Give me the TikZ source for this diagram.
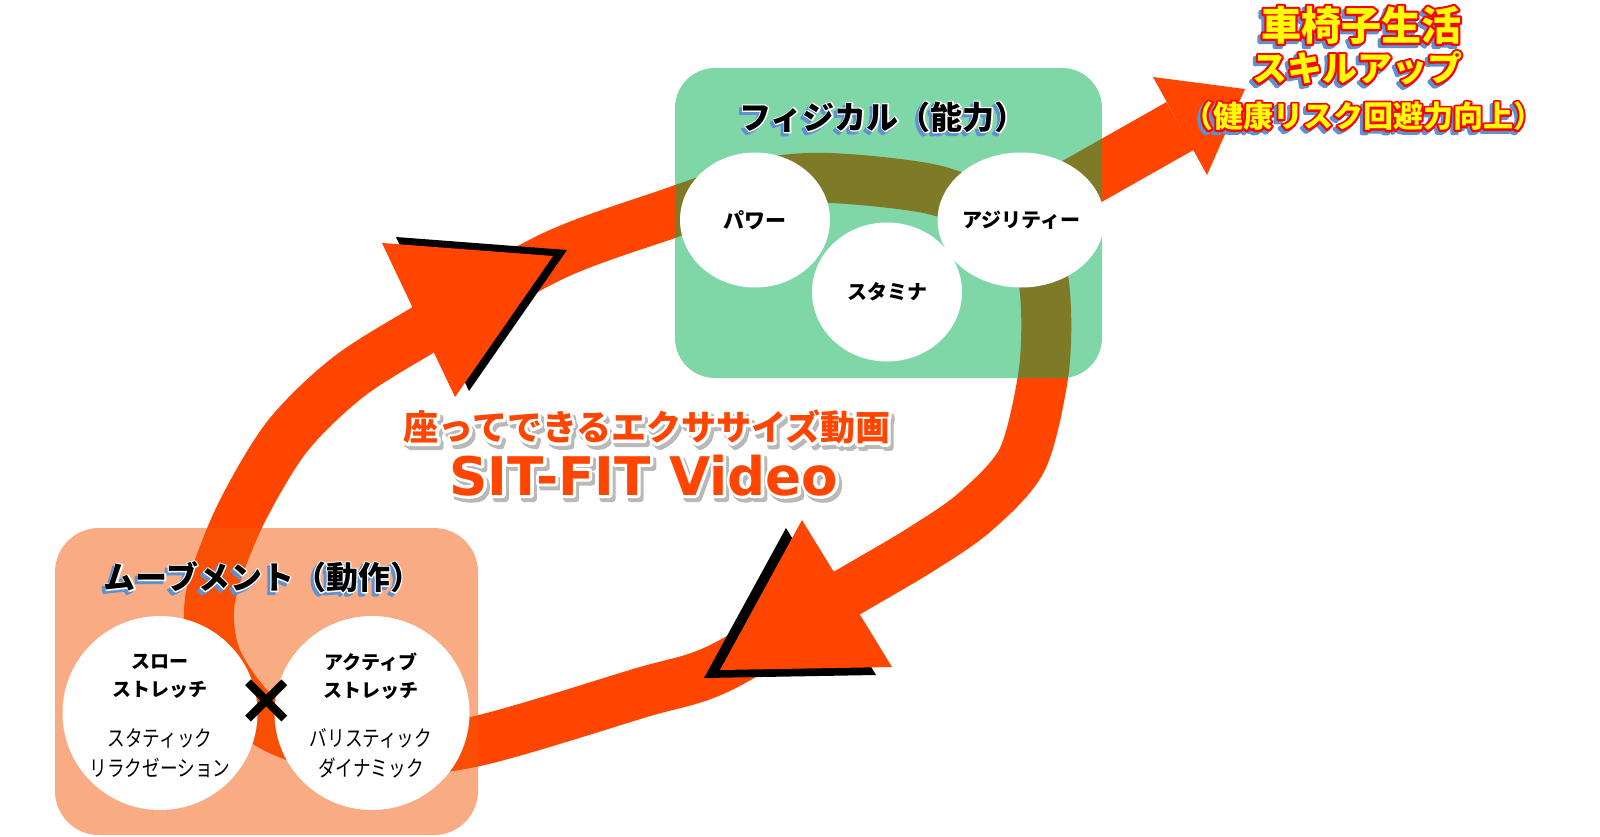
\documentclass[tikz,border=0pt]{standalone}
\usepackage{fontspec}
\usetikzlibrary{shapes.geometric}
\newfontfamily\jp{Noto Sans CJK JP}
\newfontfamily\jpn[FakeStretch=0.8]{Noto Sans CJK JP}
\newfontfamily\dv{DejaVu Sans}
\definecolor{orangered}{RGB}{255,69,0}
\definecolor{boxgreen}{RGB}{0,176,80}
\definecolor{boxsalmon}{RGB}{245,90,10}
\definecolor{shblue}{RGB}{95,145,210}
\definecolor{shgray}{RGB}{185,185,185}
\definecolor{txtyellow}{RGB}{255,255,0}
\definecolor{txtred}{RGB}{255,0,0}
% outlined (stroked) copy of a text: #1 colour, #2 stroke width in bp, #3 text
\newcommand\olcopy[3]{\textcolor{#1}{\special{pdf:literal direct 2 Tr #2 w 1 j 1 J}#3\special{pdf:literal direct 0 Tr}}}
% text with an outline behind it
\newcommand\oltext[3]{\rlap{\olcopy{#1}{#2}{#3}}#3}
\begin{document}
\begin{tikzpicture}[x=0.5pt,y=-0.5pt,
  band/.style={draw=orangered, line width=25pt},
  bubble/.style={ellipse, fill=white, inner sep=0pt, align=center},
  boxtitle/.style={font=\jp\bfseries\fontsize{16pt}{18pt}\selectfont, inner sep=0pt},
  bubblehead/.style={font=\jp\bfseries\fontsize{10pt}{12pt}\selectfont},
  movehead/.style={font=\jp\bfseries\fontsize{9.5pt}{14pt}\selectfont, align=center, inner sep=0pt},
  movesub/.style={font=\jpn\fontsize{11pt}{15pt}\selectfont, align=center, inner sep=0pt},
  maintitle/.style={font=\jp\bfseries\fontsize{17.5pt}{20pt}\selectfont, inner sep=0pt},
  videotitle/.style={font=\dv\bfseries\fontsize{26.6pt}{30pt}\selectfont, inner sep=0pt, anchor=base},
  goalA/.style={font=\jp\bfseries\fontsize{20pt}{22pt}\selectfont, inner sep=0pt},
  goalB/.style={font=\jp\bfseries\fontsize{17.5pt}{20pt}\selectfont, inner sep=0pt},
  goalC/.style={font=\jp\bfseries\fontsize{15pt}{18pt}\selectfont, inner sep=0pt}
]
\fill[white] (0,0) rectangle (1600,836);
\useasboundingbox (0,0) rectangle (1600,836);

% cycle band
\draw[band] plot[smooth cycle, tension=0.5] coordinates {(720,668) (640,693) (473,742) (360,752) (268,724) (218,662) (210,600) (238,520) (286,438) (347,378) (423,330) (553,256) (668,214) (760,184) (830,178) (935,190) (1000,220) (1038,262) (1046,310) (1043,377) (1022,460) (975,512) (920,550) (847,593)};

% arrow to the goal
\coordinate (urs) at (1021,216);
\coordinate (urb) at (1180,126);
\draw[orangered, line width=27.5pt] (urs) -- (urb);
\fill[orangered] (1153,77) -- (1245,89) -- (1207,175) -- cycle;

% boxes
\fill[boxgreen, fill opacity=0.5, rounded corners=20pt] (675,68) rectangle (1102,378);
\fill[boxsalmon, fill opacity=0.5, rounded corners=22pt] (55,528) rectangle (478,835);

% arrowheads with shadows
\fill[black, shift={(14,-6)}] (382,243) -- (553,256) -- (455,397) -- cycle;
\fill[orangered] (382,243) -- (553,256) -- (455,397) -- cycle;
\fill[black, shift={(-16,8)}] (802,520) -- (892,667) -- (720,670) -- cycle;
\fill[orangered] (802,520) -- (892,667) -- (720,670) -- cycle;

% physical circles
\node[bubble, minimum width=75pt, minimum height=67.5pt, font=\jp\bfseries\fontsize{10.5pt}{12pt}\selectfont] (power) at (755,220) {パワー};
\node[bubble, minimum width=75pt, minimum height=69.5pt, bubblehead] (stamina) at (887,292) {スタミナ};
\node[bubble, minimum width=75pt, minimum height=67.5pt, bubblehead] (agility) at (1021,220) {アジリティー};

% movement circles
\node[bubble, minimum width=97.5pt, minimum height=97pt] (slow) at (160,713) {};
\node[bubble, minimum width=97.5pt, minimum height=97pt] (active) at (372,713) {};
\node[movehead] (slowhead) at (160,676) {スロー\\ストレッチ};
\node[movesub] (slowsub) at (160,753) {スタティック\\リラクゼーション};
\node[movehead] (activehead) at (371,676) {アクティブ\\ストレッチ};
\node[movesub] (activesub) at (371,753) {バリスティック\\ダイナミック};
\node[font=\dv\bfseries\fontsize{36pt}{36pt}\selectfont, inner sep=0pt] (times) at (267,702) {×};

% box titles
\node[boxtitle, text=shblue] (physsh) at (880,120) {\olcopy{shblue}{1.2}{フィジカル（能力）}};
\node[boxtitle] (phys) at (883,117) {\oltext{white}{1.2}{フィジカル（能力）}};
\node[boxtitle, text=shblue] (movesh) at (260,580) {\olcopy{shblue}{1.2}{ムーブメント（動作）}};
\node[boxtitle] (move) at (263,577) {\oltext{white}{1.2}{ムーブメント（動作）}};

% main title
\node[maintitle, text=shgray] (mtsh) at (650,431) {\olcopy{shgray}{3}{座ってできるエクササイズ動画}};
\node[maintitle, text=orangered] (mt) at (647,427) {\oltext{white}{3}{座ってできるエクササイズ動画}};
\node[videotitle, text=shgray] (vtsh) at (647,499) {\olcopy{shgray}{3}{SIT-FIT Video}};
\node[videotitle, text=orangered] (vt) at (644,495) {\oltext{white}{3}{SIT-FIT Video}};

% goal text
\node[goalA, text=shblue] (g1sh) at (1358,28) {\olcopy{shblue}{2.2}{車椅子生活}};
\node[goalA, text=txtyellow] (g1) at (1361,25) {\oltext{txtred}{2.2}{車椅子生活}};
\node[goalB, text=shblue] (g2sh) at (1354,71) {\olcopy{shblue}{2.2}{スキルアップ}};
\node[goalB, text=txtyellow] (g2) at (1357,68) {\oltext{txtred}{2.2}{スキルアップ}};
\node[goalC, text=shblue] (g3sh) at (1360,119) {\olcopy{shblue}{2}{（健康リスク回避力向上）}};
\node[goalC, text=txtyellow] (g3) at (1363,116) {\oltext{txtred}{2}{（健康リスク回避力向上）}};
\end{tikzpicture}
\end{document}
